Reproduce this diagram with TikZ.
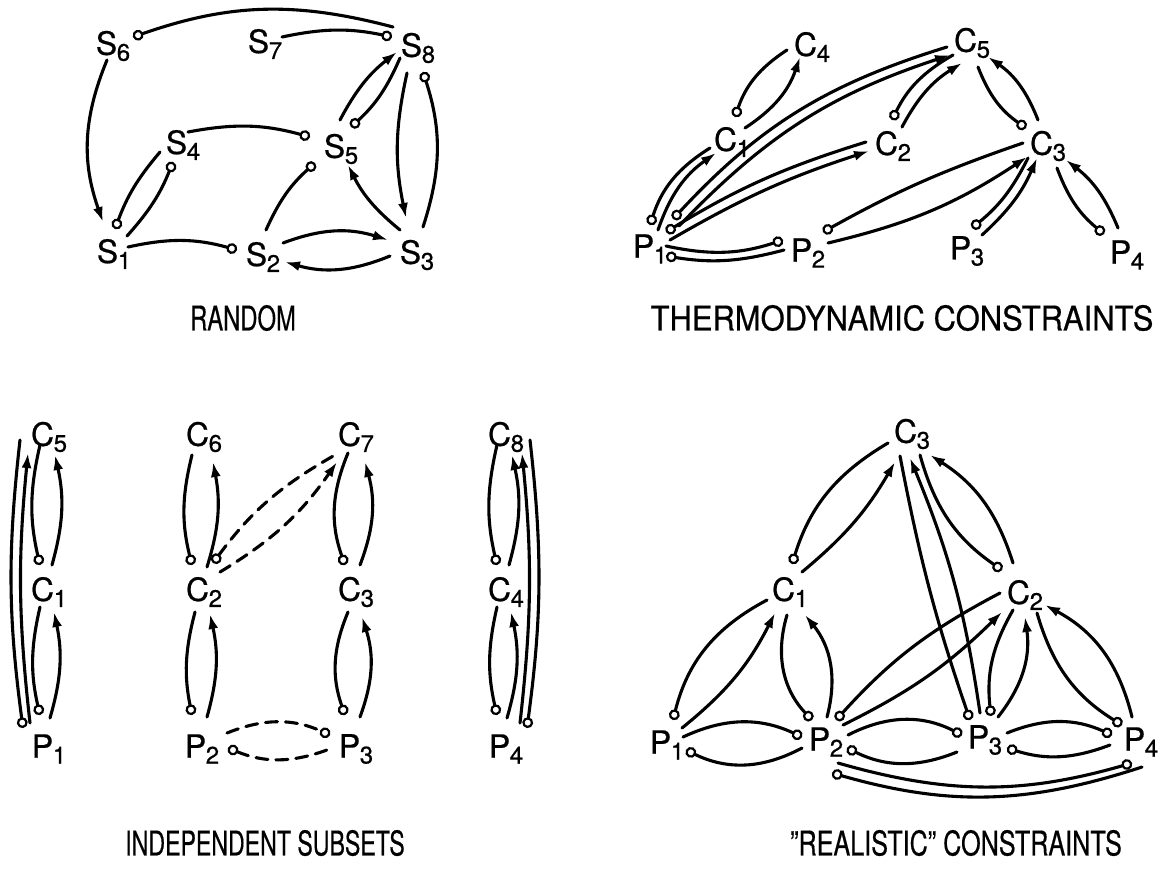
\documentclass[tikz,border=0pt]{standalone}
\usepackage{fontspec}
\setmainfont{TeX Gyre Heros}[FakeBold=0.6]
\usetikzlibrary{arrows.meta}
\newcommand\lbl[2]{#1\kern-0.2pt\raisebox{-3pt}{\fontsize{12}{13}\selectfont #2}}
\begin{document}
\begin{tikzpicture}[x=0.5pt,y=-0.5pt,
  every node/.style={inner sep=0pt, font=\fontsize{16}{19}\selectfont},
  ln/.style={line width=1.55pt, line cap=round},
  pa/.style={ln,-{Latex[length=7.5pt,width=5pt]}},
  cp/.style={ln,{Circle[open,length=5.4pt,width=5.4pt,line width=1.1pt]}-},
  pc/.style={ln,-{Circle[open,length=5.4pt,width=5.4pt,line width=1.1pt]}},
  dsh/.style={dash pattern=on 6pt off 4pt},
  ttl/.style={font=\fontsize{17}{20}\selectfont}]
\useasboundingbox (0,0) rectangle (1160,868);

% ---------------- RANDOM ----------------
\node (s6) at (113,46) {\lbl{S}{6}};
\node (s7) at (265,44) {\lbl{S}{7}};
\node (s8) at (418,48) {\lbl{S}{8}};
\node (s4) at (183,145) {\lbl{S}{4}};
\node (s5) at (341,149) {\lbl{S}{5}};
\node (s1) at (114,254) {\lbl{S}{1}};
\node (s2) at (263,257) {\lbl{S}{2}};
\node (s3) at (417,255) {\lbl{S}{3}};

\draw[cp] ([shift={(20,-9)}]s6.center) to[bend left=17] ([shift={(-25,-21)}]s8.center);
\draw[pc] ([shift={(17,-7)}]s7.center) to[bend left=12] ([shift={(-26,-11)}]s8.center);
\draw[pa] ([shift={(-6,14)}]s6.center) to[bend right=21] ([shift={(-11,-32)}]s1.center);
\draw[pc] ([shift={(-23,7)}]s4.center) to[bend right=10] ([shift={(1,-25)}]s1.center);
\draw[pc] ([shift={(13,-18)}]s1.center) to[bend right=10] ([shift={(-10,17)}]s4.center);
\draw[pc] ([shift={(5,-13)}]s4.center) to[bend left=13] ([shift={(-31,-12)}]s5.center);
\draw[pc] ([shift={(14,-7)}]s1.center) to[bend left=14] ([shift={(-26,-7)}]s2.center);
\draw[pc] ([shift={(3,-27)}]s2.center) to[bend left=12] ([shift={(-26,14)}]s5.center);
\draw[pa] ([shift={(20,-14)}]s2.center) to[bend left=19] ([shift={(-29,-15)}]s3.center);
\draw[pa] ([shift={(-27,1)}]s3.center) to[bend left=19] ([shift={(22,5)}]s2.center);
\draw[pa] ([shift={(-17,-25)}]s3.center) to[bend left=12] ([shift={(7,16)}]s5.center);
\draw[pa] ([shift={(-1,-29)}]s5.center) to[bend left=12] ([shift={(-21,4)}]s8.center);
\draw[pc] ([shift={(-18,10)}]s8.center) to[bend left=12] ([shift={(10,-22)}]s5.center);
\draw[pa] ([shift={(-11,25)}]s8.center) to[bend right=12] ([shift={(-11,-37)}]s3.center);
\draw[pc] ([shift={(6,-28)}]s3.center) to[bend right=18] ([shift={(5,24)}]s8.center);

\node[ttl] (t1) at (243,318) {\scalebox{0.7}[1]{RANDOM}};

% ---------------- THERMODYNAMIC ----------------
\node (tc4) at (812,47) {\lbl{C}{4}};
\node (tc1) at (732,142) {\lbl{C}{1}};
\node (tc2) at (893,146) {\lbl{C}{2}};
\node (tc5) at (972,43) {\lbl{C}{5}};
\node (tc3) at (1048,146) {\lbl{C}{3}};
\node (tp1) at (650,249) {\lbl{P}{1}};
\node (tp2) at (808,253) {\lbl{P}{2}};
\node (tp3) at (967,251) {\lbl{P}{3}};
\node (tp4) at (1127,255) {\lbl{P}{4}};

\draw[cp] ([shift={(3,-25)}]tc1.center) to[bend left=19] ([shift={(-25,3)}]tc4.center);
\draw[pa] ([shift={(13,-14)}]tc1.center) to[bend right=19] ([shift={(-12,10)}]tc4.center);
\draw[cp] ([shift={(0,-24)}]tp1.center) to[bend left=20] ([shift={(-22,6)}]tc1.center);
\draw[pa] ([shift={(8,-19)}]tp1.center) to[bend left=18] ([shift={(-16,11)}]tc1.center);
\draw[cp] ([shift={(23,-30)}]tp1.center) to[bend left=15] ([shift={(-25,4)}]tc5.center);
\draw[pa] ([shift={(29,-23)}]tp1.center) to[bend left=14] ([shift={(-22,12)}]tc5.center);
\draw[cp] ([shift={(16,-17)}]tp1.center) to[bend left=7] ([shift={(-27,-4)}]tc2.center);
\draw[pa] ([shift={(20,-9)}]tp1.center) to[bend left=6] ([shift={(-24,5)}]tc2.center);
\draw[pc] ([shift={(16,-3)}]tp1.center) to[bend right=15] ([shift={(-25,-13)}]tp2.center);
\draw[cp] ([shift={(16,7)}]tp1.center) to[bend right=12] ([shift={(-24,-3)}]tp2.center);
\draw[cp] ([shift={(15,-21)}]tp2.center) to[bend left=5] ([shift={(-25,-3)}]tc3.center);
\draw[pa] ([shift={(20,-10)}]tp2.center) to[bend right=10] ([shift={(-21,11)}]tc3.center);
\draw[cp] ([shift={(-1,-26)}]tc2.center) to[bend left=17] ([shift={(-19,12)}]tc5.center);
\draw[pa] ([shift={(9,-19)}]tc2.center) to[bend left=15] ([shift={(-10,20)}]tc5.center);
\draw[pc] ([shift={(6,24)}]tc5.center) to[bend right=17] ([shift={(-22,-18)}]tc3.center);
\draw[pa] ([shift={(-10,-26)}]tc3.center) to[bend right=17] ([shift={(16,14)}]tc5.center);
\draw[cp] ([shift={(5,-23)}]tp3.center) to[bend right=12] ([shift={(-20,12)}]tc3.center);
\draw[pa] ([shift={(15,-16)}]tp3.center) to[bend right=12] ([shift={(-11,12)}]tc3.center);
\draw[pc] ([shift={(9,22)}]tc3.center) to[bend right=15] ([shift={(-23,-21)}]tp4.center);
\draw[pa] ([shift={(-9,-27)}]tp4.center) to[bend right=15] ([shift={(18,14)}]tc3.center);

\node[ttl] (t2) at (902,318) {\scalebox{0.91}[1]{THERMODYNAMIC CONSTRAINTS}};

% ---------------- INDEPENDENT SUBSETS ----------------
\node (ic5) at (49,437) {\lbl{C}{5}};
\node (ic1) at (49,592) {\lbl{C}{1}};
\node (ip1) at (49,749) {\lbl{P}{1}};
\node (ic6) at (204,437) {\lbl{C}{6}};
\node (ic2) at (204,592) {\lbl{C}{2}};
\node (ip2) at (202,749) {\lbl{P}{2}};
\node (ic7) at (356,437) {\lbl{C}{7}};
\node (ic3) at (356,592) {\lbl{C}{3}};
\node (ip3) at (356,749) {\lbl{P}{3}};
\node (ic8) at (506,437) {\lbl{C}{8}};
\node (ic4) at (506,592) {\lbl{C}{4}};
\node (ip4) at (506,749) {\lbl{P}{4}};

% column 1
\draw[cp] ([shift={(-9,-27)}]ic1.center) to[bend left=13] ([shift={(-9,8)}]ic5.center);
\draw[pa] ([shift={(3,-27)}]ic1.center) to[bend right=14] ([shift={(6,18)}]ic5.center);
\draw[cp] ([shift={(-9,-34)}]ip1.center) to[bend left=13] ([shift={(-9,15)}]ic1.center);
\draw[pa] ([shift={(1,-31)}]ip1.center) to[bend right=14] ([shift={(5,20)}]ic1.center);
\draw[cp] ([shift={(-26,-21)}]ip1.center) to[bend left=7] ([shift={(-29,3)}]ic5.center);
\draw[pa] ([shift={(-19,-26)}]ip1.center) to[bend left=6] ([shift={(-21,16)}]ic5.center);
% column 2
\draw[cp] ([shift={(-12,-27)}]ic2.center) to[bend left=14] ([shift={(-12,18)}]ic6.center);
\draw[pa] ([shift={(3,-25)}]ic2.center) to[bend right=14] ([shift={(9,25)}]ic6.center);
\draw[cp] ([shift={(-10,-34)}]ip2.center) to[bend left=13] ([shift={(-9,20)}]ic2.center);
\draw[pa] ([shift={(5,-32)}]ip2.center) to[bend right=14] ([shift={(6,22)}]ic2.center);
\draw[cp,dsh] ([shift={(9,-29)}]ic2.center) to[bend left=12] ([shift={(-21,18)}]ic7.center);
\draw[pa,dsh] ([shift={(16,-20)}]ic2.center) to[bend right=12] ([shift={(-19,25)}]ic7.center);
\draw[pc,dsh] ([shift={(25,-16)}]ip2.center) to[bend left=23] ([shift={(-26,-14)}]ip3.center);
\draw[cp,dsh] ([shift={(26,-1)}]ip2.center) to[bend right=21] ([shift={(-29,1)}]ip3.center);
% column 3
\draw[cp] ([shift={(-11,-27)}]ic3.center) to[bend left=21] ([shift={(-8,16)}]ic7.center);
\draw[pa] ([shift={(4,-27)}]ic3.center) to[bend right=18] ([shift={(9,25)}]ic7.center);
\draw[cp] ([shift={(-11,-34)}]ip3.center) to[bend left=21] ([shift={(-8,20)}]ic3.center);
\draw[pa] ([shift={(4,-32)}]ip3.center) to[bend right=19] ([shift={(6,25)}]ic3.center);
% column 4
\draw[cp] ([shift={(-9,-27)}]ic4.center) to[bend left=13] ([shift={(-9,8)}]ic8.center);
\draw[pa] ([shift={(3,-27)}]ic4.center) to[bend right=14] ([shift={(6,18)}]ic8.center);
\draw[cp] ([shift={(-9,-34)}]ip4.center) to[bend left=13] ([shift={(-9,15)}]ic4.center);
\draw[pa] ([shift={(1,-31)}]ip4.center) to[bend right=14] ([shift={(5,20)}]ic4.center);
\draw[pa] ([shift={(14,-26)}]ip4.center) to[bend right=6] ([shift={(16,16)}]ic8.center);
\draw[cp] ([shift={(21,-21)}]ip4.center) to[bend right=7] ([shift={(24,3)}]ic8.center);

\node[ttl] (t3) at (265,843) {\scalebox{0.68}[1]{INDEPENDENT SUBSETS}};

% ---------------- REALISTIC ----------------
\node (rc3) at (912,434) {\lbl{C}{3}};
\node (rc1) at (790,592) {\lbl{C}{1}};
\node (rc2) at (1025,595) {\lbl{C}{2}};
\node (rp1) at (667,745) {\lbl{P}{1}};
\node (rp2) at (826,742) {\lbl{P}{2}};
\node (rp3) at (985,740) {\lbl{P}{3}};
\node (rp4) at (1141,742) {\lbl{P}{4}};

\draw[cp] ([shift={(2,-28)}]rc1.center) to[bend left=21] ([shift={(-24,9)}]rc3.center);
\draw[pa] ([shift={(12,-20)}]rc1.center) to[bend right=10] ([shift={(-17,28)}]rc3.center);
\draw[cp] ([shift={(6,-25)}]rp1.center) to[bend left=24] ([shift={(-23,8)}]rc1.center);
\draw[pa] ([shift={(15,-17)}]rp1.center) to[bend right=12] ([shift={(-15,21)}]rc1.center);
\draw[pc] ([shift={(-3,23)}]rc1.center) to[bend right=30] ([shift={(-14,-22)}]rp2.center);
\draw[pa] ([shift={(1,-25)}]rp2.center) to[bend right=27] ([shift={(15,23)}]rc1.center);
\draw[pc] ([shift={(16,-8)}]rp1.center) to[bend left=25] ([shift={(-24,-5)}]rp2.center);
\draw[cp] ([shift={(19,5)}]rp1.center) to[bend right=27] ([shift={(-24,6)}]rp2.center);
\draw[cp] ([shift={(10,-22)}]rp2.center) to[bend left=10] ([shift={(-25,-2)}]rc2.center);
\draw[pa] ([shift={(17,-17)}]rp2.center) to[bend right=9] ([shift={(-23,17)}]rc2.center);
\draw[pc] ([shift={(22,-7)}]rp2.center) to[bend left=27] ([shift={(-23,-5)}]rp3.center);
\draw[cp] ([shift={(21,6)}]rp2.center) to[bend right=24] ([shift={(-28,12)}]rp3.center);
\draw[pc] ([shift={(22,-7)}]rp3.center) to[bend left=23] ([shift={(-29,-7)}]rp4.center);
\draw[cp] ([shift={(22,8)}]rp3.center) to[bend right=19] ([shift={(-31,3)}]rp4.center);
\draw[pc] ([shift={(12,21)}]rp2.center) to[bend right=16] ([shift={(-9,21)}]rp4.center);
\draw[cp] ([shift={(6,31)}]rp2.center) to[bend right=17] ([shift={(1,25)}]rp4.center);
\draw[cp] ([shift={(6,-24)}]rp3.center) to[bend left=18] ([shift={(-12,15)}]rc2.center);
\draw[pa] ([shift={(13,-23)}]rp3.center) to[bend right=23] ([shift={(0,22)}]rc2.center);
\draw[pc] ([shift={(12,18)}]rc2.center) to[bend right=21] ([shift={(-19,-17)}]rp4.center);
\draw[pa] ([shift={(-9,-25)}]rp4.center) to[bend right=24] ([shift={(20,10)}]rc2.center);
\draw[pc] ([shift={(8,21)}]rc3.center) to[bend right=20] ([shift={(-23,-25)}]rc2.center);
\draw[pa] ([shift={(-12,-32)}]rc2.center) to[bend right=20] ([shift={(18,21)}]rc3.center);
\draw[pc] ([shift={(-12,22)}]rc3.center) to[bend right=4] ([shift={(-15,-20)}]rp3.center);
\draw[pa] ([shift={(-5,-27)}]rp3.center) to[bend right=7] ([shift={(-2,24)}]rc3.center);

\node[ttl] (t4) at (956,843) {\scalebox{0.74}[1]{\symbol{34}REALISTIC\symbol{34} CONSTRAINTS}};
\end{tikzpicture}
\end{document}
